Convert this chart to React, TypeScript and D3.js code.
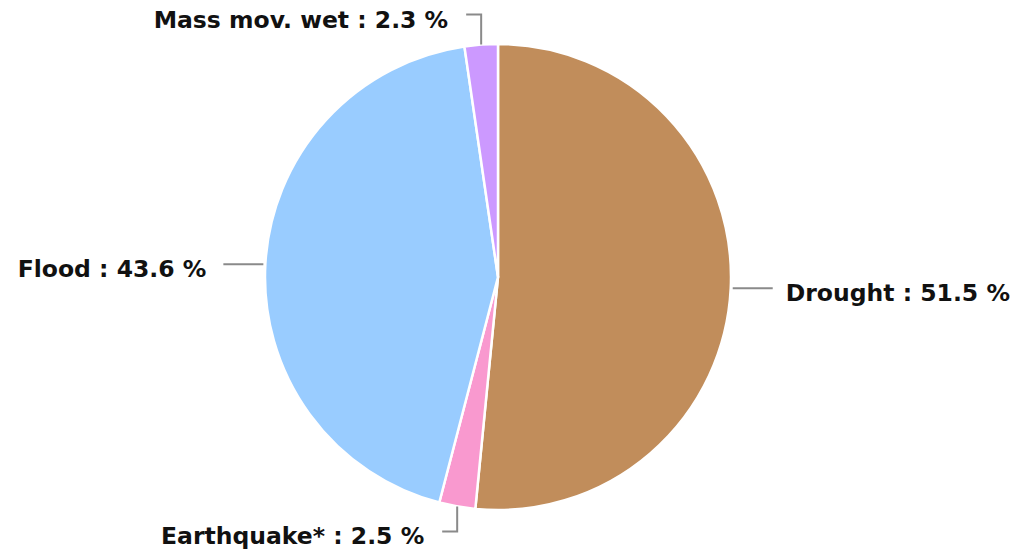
import React, { useEffect, useRef } from "react";
import * as d3 from "d3";

// hazard shares, clockwise from 12 o'clock
const categories = ["Drought", "Earthquake*", "Flood", "Mass mov. wet"];
const shares = [51.5, 2.5, 43.6, 2.3];
const colors = ["#C18D5B", "#F999CF", "#99CCFF", "#CC99FF"];

const W = 1014;
const H = 556;

export default function App() {
  const ref = useRef<SVGSVGElement>(null);

  useEffect(() => {
    const svg = d3.select(ref.current);
    svg.selectAll("*").remove();

    const cx = 498, cy = 277, r = 233;
    const data = categories.map((c, i) => ({ name: c, value: shares[i], color: colors[i] }));

    const pie = d3.pie<any>().sort(null).value((d) => d.value);
    const arc = d3.arc<any>().innerRadius(0).outerRadius(r);

    const g = svg.append("g").attr("transform", `translate(${cx},${cy})`);

    const arcs = pie(data);

    g.selectAll("path.slice")
      .data(arcs)
      .enter()
      .append("path")
      .attr("class", "slice")
      .attr("d", arc)
      .attr("fill", (d) => d.data.color)
      .attr("stroke", "#fff")
      .attr("stroke-width", 2.5)
      .attr("stroke-linejoin", "round");

    arcs.forEach((d) => {
      const a = (d.startAngle + d.endAngle) / 2;
      const sx = Math.sin(a) * r;
      const sy = -Math.cos(a) * r;
      let pts: [number, number][];
      let tx: number, ty: number, anchor: string;
      if (Math.abs(Math.cos(a)) > 0.9) {
        // small slices at top/bottom: vertical then horizontal elbow
        const ey = sy + (sy < 0 ? -30 : 25);
        const ex = sx - 15;
        pts = [[sx, sy], [sx, ey], [ex, ey]];
        tx = ex - 18; ty = ey; anchor = "end";
      } else {
        const dir = Math.sin(a) > 0 ? 1 : -1;
        const ex = sx + dir * 42;
        pts = [[sx + dir * 2, sy], [ex, sy]];
        tx = ex + dir * (dir > 0 ? 13 : 17); ty = sy; anchor = dir > 0 ? "start" : "end";
      }
      g.append("path")
        .attr("d", d3.line()(pts))
        .attr("fill", "none")
        .attr("stroke", "#8a8a8a")
        .attr("stroke-width", 2);
      g.append("text")
        .attr("x", tx)
        .attr("y", ty + 5)
        .attr("text-anchor", anchor)
        .attr("dominant-baseline", "central")
        .attr("font-family", "DejaVu Sans")
        .attr("font-weight", "bold")
        .attr("font-size", 23.5)
        .attr("fill", "#111")
        .text(`${d.data.name} : ${d.data.value} %`);
    });
  }, []);

  return (
    <svg
      ref={ref}
      width={W}
      height={H}
      style={{ position: "absolute", left: 0, top: 0, background: "#fff" }}
    />
  );
}
